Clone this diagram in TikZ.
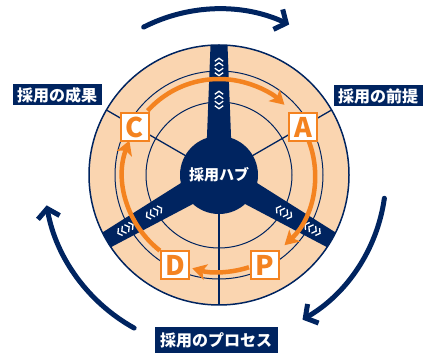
\documentclass[tikz,border=0pt]{standalone}
\usepackage{fontspec}
\newfontfamily\jp{Noto Sans CJK JP}
\usetikzlibrary{arrows.meta}
\definecolor{navy}{RGB}{0,36,96}
\definecolor{peach}{RGB}{250,213,176}
\definecolor{orng}{RGB}{244,131,32}
\begin{document}
\begin{tikzpicture}[x=1pt,y=1pt,
  lbl/.style={fill=navy,text=white,inner sep=0pt,minimum height=21pt,
    font=\jp\bfseries\fontsize{16}{16}\selectfont},
  pdca/.style={draw=orng,line width=1.4pt,fill=white,minimum size=28pt,inner sep=0pt,
    text=orng,font=\jp\bfseries\fontsize{27}{27}\selectfont},
  oarc/.style={draw=orng,line width=4.5pt,-{Stealth[length=14pt,width=16pt,inset=3.5pt]}},
  narr/.style={draw=navy,line width=5pt,line cap=round,-{Straight Barb[length=9pt,width=22pt]}},
  chev/.style={draw=white,line width=1.3pt},
  thin/.style={draw=navy,line width=1pt}]
\useasboundingbox (0,0) rectangle (436,353);
\coordinate (O) at (219,178);
% disc
\fill[peach] (O) circle[radius=130pt];
\draw[thin] (O) circle[radius=104pt];
\draw[thin] (O) circle[radius=73pt];
\foreach \a in {30,150,270}
  \draw[navy,line width=1.3pt] ([shift={(O)}]\a:38pt) -- ([shift={(O)}]\a:130pt);
% spokes
\begin{scope}
  \clip (O) circle[radius=130pt];
  \foreach \a in {90,210,330}
    \fill[navy,shift={(O)},rotate=\a] (0,-13.5) -- (135,-8.3) -- (135,8.3) -- (0,13.5) -- cycle;
\end{scope}
\node[circle,fill=navy,minimum size=78pt,inner sep=0pt,text=white,
  font=\jp\bfseries\fontsize{15}{15}\selectfont] (hub) at (O) {採用ハブ};
% chevrons
\foreach \a in {90,210,330}
  \foreach \r in {75,108} {
    \begin{scope}[shift={(O)},rotate=\a]
      \foreach \d in {3,7.5} {
        \draw[chev] (\r+\d-1.8,4.2) -- (\r+\d+1.2,0) -- (\r+\d-1.8,-4.2);
        \draw[chev] (\r-\d+1.8,4.2) -- (\r-\d-1.2,0) -- (\r-\d+1.8,-4.2);
      }
    \end{scope}
  }
% orange cycle
\draw[oarc] ([shift={(O)}]138:96pt) arc[start angle=138,end angle=47,radius=96pt];
\draw[oarc] ([shift={(O)}]21:96pt) arc[start angle=21,end angle=-47,radius=96pt];
\draw[oarc] ([shift={(O)}]-72:97pt) arc[start angle=-72,end angle=-106,radius=97pt];
\draw[oarc] ([shift={(O)}]-128:96pt) arc[start angle=-128,end angle=-201,radius=96pt];
% outer border
\draw[navy,line width=1.5pt] (O) circle[radius=130pt];
% PDCA boxes
\node[pdca] (A) at (303,226) {A};
\node[pdca] (C) at (135,226) {C};
\node[pdca] (P) at (265,88) {P};
\node[pdca] (D) at (175,88) {D};
% outer arrows
\draw[narr] ([shift={(O)}]117:166pt) arc[start angle=117,end angle=65,radius=166pt];
\draw[narr] ([shift={(O)}]-8:167pt) arc[start angle=-8,end angle=-60,radius=167pt];
\draw[narr] ([shift={(O)}]-119:175pt) arc[start angle=-119,end angle=-170,radius=175pt];
% labels
\node[lbl,minimum width=89pt] (l1) at (57,258) {採用の成果};
\node[lbl,minimum width=89pt] (l2) at (378,257) {採用の前提};
\node[lbl,minimum width=123pt,minimum height=26pt] (l3) at (216,13) {採用のプロセス};
\end{tikzpicture}
\end{document}
